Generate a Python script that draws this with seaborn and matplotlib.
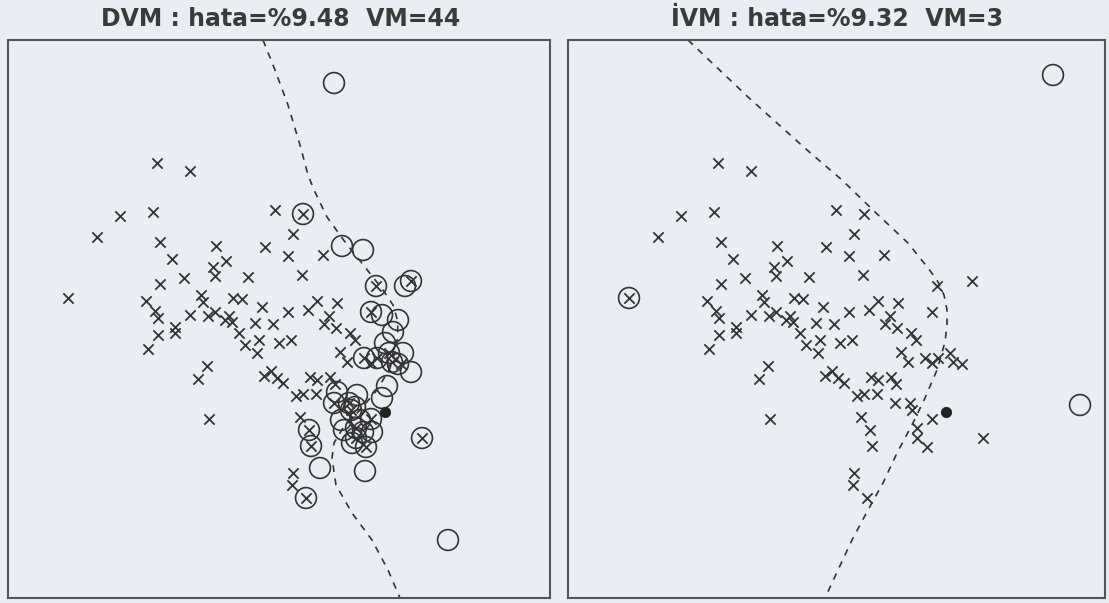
import pandas as pd
import seaborn as sns
import matplotlib.pyplot as plt

# class 1 points (drawn as x), shared by both panels (left panel pixel space, y down)
c1_x = [157, 190, 120, 153, 97, 160, 172, 216, 226, 213, 215, 184, 160, 248, 265, 275, 303, 288, 293, 323,
        302, 68, 146, 155, 158, 190, 201, 203, 208, 215, 233, 242, 229, 225, 232, 239, 245, 257, 259, 255,
        262, 273, 279, 288, 291, 175, 175, 158, 148, 207, 198, 264, 271, 277, 283, 296, 303, 316, 300, 209,
        308, 317, 337, 329, 324, 336, 350, 355, 340, 347, 310, 317, 330, 335, 293, 292,
        376, 411, 371, 364, 371, 377, 389, 392, 401, 334, 349, 351, 356, 356, 371, 366, 309, 311, 306, 422]
c1_y = [163, 171, 216, 212, 237, 242, 259, 246, 261, 267, 276, 278, 284, 277, 247, 210, 214, 256, 234, 255,
        275, 298, 301, 311, 318, 315, 295, 302, 316, 312, 298, 299, 316, 320, 322, 333, 345, 353, 340, 323,
        307, 324, 343, 312, 340, 327, 333, 335, 349, 366, 379, 376, 371, 378, 383, 396, 394, 394, 417, 419,
        310, 301, 303, 316, 324, 328, 333, 340, 352, 362, 377, 380, 377, 384, 473, 485,
        286, 281, 312, 358, 363, 358, 353, 362, 364, 403, 403, 410, 428, 438, 419, 447, 430, 446, 498, 438]

# support vectors of the SVM (left panel, VM=44)
sv_x = [334, 303, 342, 363, 376, 411, 405, 371, 382, 393, 385, 403, 411, 364, 377, 389, 398, 387, 382, 334,
        349, 357, 351, 341, 356, 360, 371, 344, 356, 363, 352, 366, 309, 311, 320, 365, 306, 422, 448, 355,
        372, 398, 337, 392]
sv_y = [83, 214, 246, 250, 286, 281, 286, 312, 315, 332, 343, 353, 372, 358, 358, 353, 364, 386, 398, 403,
        403, 395, 410, 420, 428, 420, 419, 430, 438, 432, 443, 447, 430, 446, 468, 471, 498, 438, 540, 407,
        432, 320, 392, 362]

# import vectors of the IVM (right panel, VM=3)
iv_x = [68, 492, 519]
iv_y = [298, 75, 405]

# test point
pt_x = [385]
pt_y = [412]

# decision boundaries
svm_bx = [263, 275, 288, 300, 308, 314, 327, 345, 365, 383, 393, 398, 397, 390, 377, 360, 343, 334, 332, 336,
          352, 372, 388, 400]
svm_by = [40, 70, 105, 145, 175, 190, 217, 242, 267, 290, 305, 322, 345, 368, 390, 410, 428, 443, 458, 485,
          513, 540, 570, 598]
ivm_bx = [127, 187, 246, 281, 314, 347, 367, 376, 383, 386, 386, 384, 376, 364, 352, 336, 322, 307, 291, 277, 264]
ivm_by = [40, 97, 150, 180, 212, 243, 268, 280, 295, 310, 325, 342, 370, 398, 423, 453, 483, 510, 540, 570, 598]

titles = ["DVM : hata=%9.48  VM=44", "İVM : hata=%9.32  VM=3"]

bg = "#e9eef4"
ink = "#333333"

sns.set_style("white")
plt.rcParams["font.family"] = ["DejaVu Sans"]

fig = plt.figure(figsize=(11.09, 6.03), dpi=100, facecolor=bg)
W, H = 1109, 603
ax_l = fig.add_axes([8 / W, 5 / H, 542 / W, 558 / H])
ax_r = fig.add_axes([568 / W, 5 / H, 537 / W, 558 / H])

pts = pd.DataFrame({"x": c1_x, "y": c1_y})
sv = pd.DataFrame({"x": sv_x, "y": sv_y})
iv = pd.DataFrame({"x": iv_x, "y": iv_y})
svm_b = pd.DataFrame({"x": svm_bx, "y": svm_by})
ivm_b = pd.DataFrame({"x": ivm_bx, "y": ivm_by})

panels = [(ax_l, sv, svm_b, (8, 550)), (ax_r, iv, ivm_b, (7, 544))]
for (ax, circ, bnd, xl), title, cx in zip(panels, titles, [281, 837]):
    ax.set_facecolor(bg)
    sns.lineplot(data=bnd, x="x", y="y", sort=False, estimator=None, ax=ax,
                 color=ink, lw=1.2, linestyle=(0, (4, 4)))
    sns.scatterplot(data=pts, x="x", y="y", marker="x", s=55, color=ink, linewidth=1.3, ax=ax)
    sns.scatterplot(data=circ, x="x", y="y", marker="o", s=225, color=ink, facecolor="none",
                    edgecolor=ink, linewidth=1.2, ax=ax)
    sns.scatterplot(x=pt_x, y=pt_y, marker="o", s=55, color="#222222", edgecolor="#222222", ax=ax)
    ax.set_xlim(*xl)
    ax.set_ylim(598, 40)
    ax.set_xticks([])
    ax.set_yticks([])
    ax.set_xlabel("")
    ax.set_ylabel("")
    for sp in ax.spines.values():
        sp.set_visible(True)
        sp.set_color("#555555")
        sp.set_linewidth(1.5)
    fig.text(cx / W, 1 - 19 / H, title, ha="center", va="center",
             fontsize=17, fontweight="bold", color="#3a3a3a")

fig.savefig("out.png", dpi=100, facecolor=bg)
